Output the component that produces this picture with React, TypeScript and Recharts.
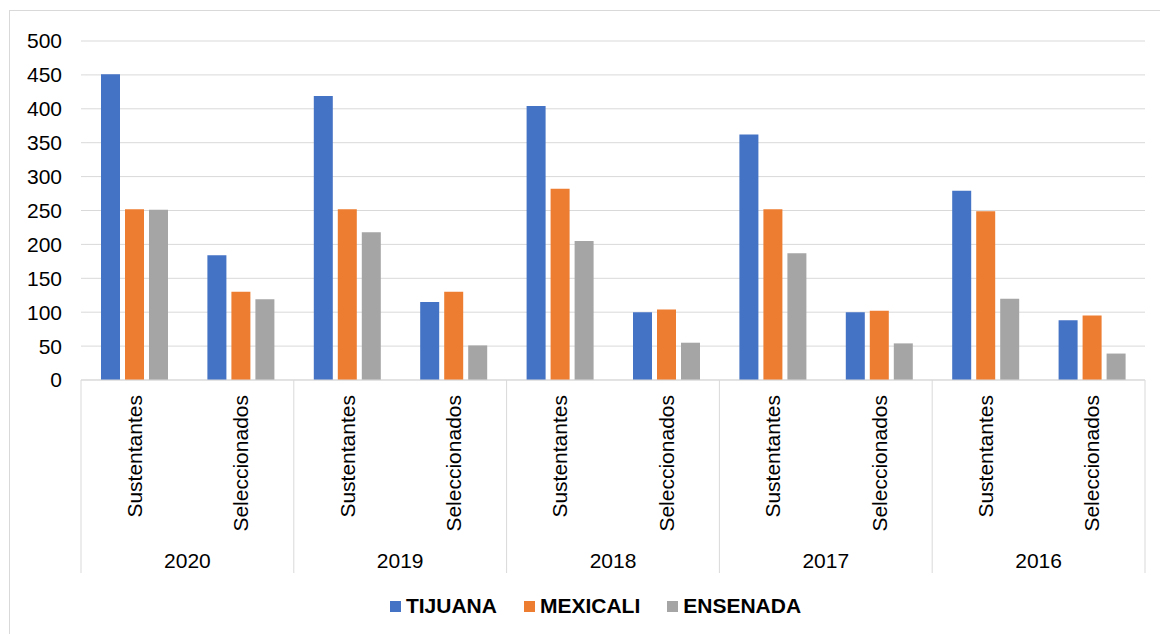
import { BarChart, Bar, XAxis, YAxis, CartesianGrid } from "recharts";

const years = ["2020", "2019", "2018", "2017", "2016"];
const types = ["Sustentantes", "Seleccionados"];
const tijuana = [451, 184, 419, 115, 404, 100, 362, 100, 279, 88];
const mexicali = [252, 130, 252, 130, 282, 104, 252, 102, 249, 95];
const ensenada = [251, 119, 218, 51, 205, 55, 187, 54, 120, 39];
const yTicks = [0, 50, 100, 150, 200, 250, 300, 350, 400, 450, 500];

const series = [
  { key: "tijuana", name: "TIJUANA", color: "#4472C4" },
  { key: "mexicali", name: "MEXICALI", color: "#ED7D31" },
  { key: "ensenada", name: "ENSENADA", color: "#A5A5A5" },
];

const rows = years.flatMap((year, i) =>
  types.map((type, j) => {
    const k = i * types.length + j;
    return {
      year,
      type,
      tijuana: tijuana[k],
      mexicali: mexicali[k],
      ensenada: ensenada[k],
    };
  })
);

const FONT = "'Liberation Sans', Arial, sans-serif";
const FS = 21;
const WIDTH = 1160;
const HEIGHT = 634;
const PLOT_LEFT = 81;
const PLOT_RIGHT = 1145;
const PLOT_TOP = 41;
const PLOT_BOTTOM = 380;
const band = (PLOT_RIGHT - PLOT_LEFT) / rows.length;
const GRID = "#d9d9d9";

function CategoryTick(props: any) {
  const { x, y, payload, index } = props;
  const row = rows[index];
  const first = index % types.length === 0;
  const last = index === rows.length - 1;
  const groupW = band * types.length;
  const ay = y + 15;
  return (
    <g>
      <text
        x={x}
        y={ay}
        transform={`rotate(-90 ${x} ${ay})`}
        textAnchor="end"
        dominantBaseline="central"
        fontFamily={FONT}
        fontSize={FS}
        fill="#000"
      >
        {payload.value}
      </text>
      {first && (
        <>
          <line
            x1={x - band / 2}
            x2={x - band / 2}
            y1={y}
            y2={y + 193}
            stroke={GRID}
          />
          <text
            x={x - band / 2 + groupW / 2}
            y={y + 180}
            textAnchor="middle"
            dominantBaseline="central"
            fontFamily={FONT}
            fontSize={FS}
            fill="#000"
          >
            {row.year}
          </text>
        </>
      )}
      {last && (
        <line
          x1={x + band / 2}
          x2={x + band / 2}
          y1={y}
          y2={y + 193}
          stroke={GRID}
        />
      )}
    </g>
  );
}

export default function App() {
  return (
    <div
      style={{
        position: "absolute",
        left: 0,
        top: 0,
        width: WIDTH,
        height: HEIGHT,
        overflow: "hidden",
        background: "#fff",
        fontFamily: FONT,
      }}
    >
      <div
        style={{
          position: "absolute",
          left: 9,
          top: 10,
          width: WIDTH - 9,
          height: HEIGHT - 10,
          borderTop: `1px solid ${GRID}`,
          borderLeft: `1px solid ${GRID}`,
        }}
      />
      <div style={{ position: "absolute", left: 0, top: 0 }}>
        <BarChart
          width={WIDTH}
          height={HEIGHT}
          data={rows}
          margin={{ top: PLOT_TOP, right: WIDTH - PLOT_RIGHT, left: 0, bottom: 0 }}
          barCategoryGap={20}
          barGap={5}
        >
          <CartesianGrid vertical={false} stroke={GRID} strokeWidth={1} />
          <XAxis
            dataKey="type"
            interval={0}
            height={HEIGHT - PLOT_BOTTOM}
            tickLine={false}
            tickSize={0}
            tickMargin={0}
            axisLine={{ stroke: GRID }}
            tick={<CategoryTick />}
          />
          <YAxis
            domain={[0, 500]}
            ticks={yTicks}
            width={PLOT_LEFT}
            axisLine={false}
            tickLine={false}
            tickSize={0}
            tickMargin={19}
            tick={{ fontSize: FS, fill: "#000", fontFamily: FONT }}
          />
          {series.map((s) => (
            <Bar
              key={s.key}
              dataKey={s.key}
              name={s.name}
              fill={s.color}
              isAnimationActive={false}
            />
          ))}
        </BarChart>
      </div>
      <div
        style={{
          position: "absolute",
          left: 0,
          top: 594,
          width: 1191,
          height: 24,
          display: "flex",
          justifyContent: "center",
          alignItems: "center",
          gap: 27,
        }}
      >
        {series.map((s) => (
          <div
            key={s.key}
            style={{ display: "flex", alignItems: "center", gap: 5 }}
          >
            <span
              style={{
                display: "inline-block",
                width: 11,
                height: 11,
                background: s.color,
              }}
            />
            <span style={{ fontSize: FS, fontWeight: 700, color: "#000" }}>
              {s.name}
            </span>
          </div>
        ))}
      </div>
    </div>
  );
}
